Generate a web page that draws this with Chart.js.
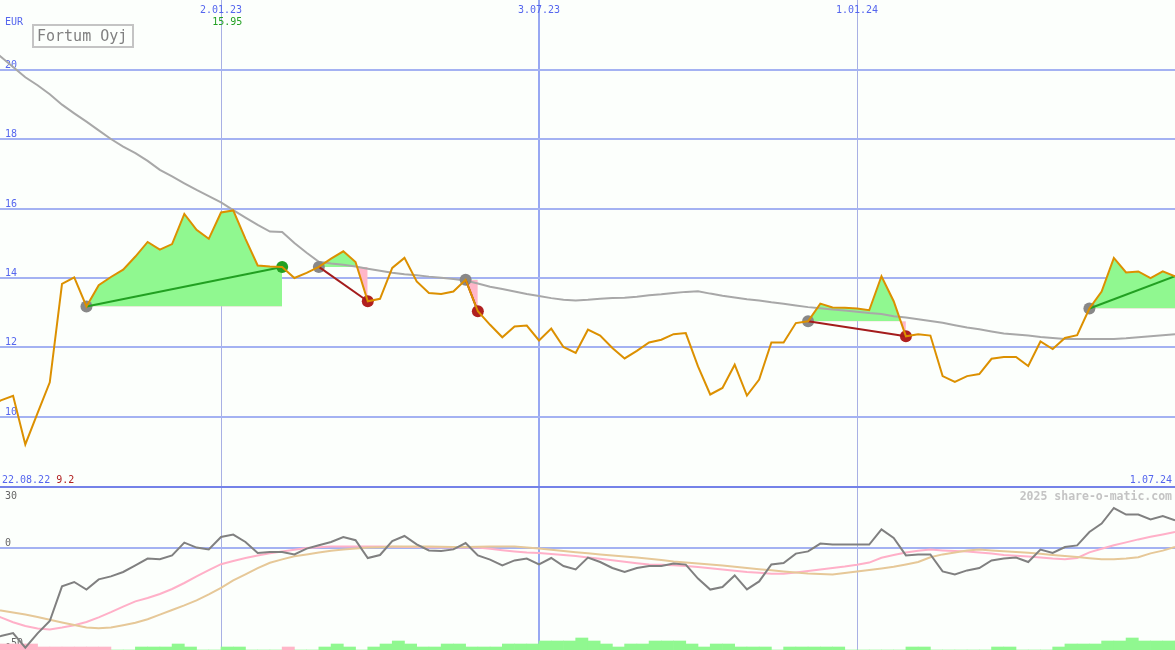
<!DOCTYPE html>
<html>
<head>
<meta charset="utf-8">
<script src="https://cdn.jsdelivr.net/npm/chart.js@4.4.1/dist/chart.umd.min.js"></script>
<style>
  body { margin: 0; background: #fcfffc; }
  #wrap { width: 1175px; height: 650px; overflow: hidden; }
  .pane { width: 1175px; position: relative; }
</style>
</head>
<body>
<div id="wrap">
  <div class="pane" style="height:486px"><canvas id="top"></canvas></div>
  <div class="pane" style="height:162px;border-top:2px solid #7482e8"><canvas id="bottom"></canvas></div>
</div>
<script>
// weekly data, week 0 = 2.01.23
var firstWeek = -19;
var xMin = -18.07, xMax = 78;
var tickWeeks = [0, 26, 52];
var tickDates = ['2.01.23', '3.07.23', '1.01.24'];
var startDate = '22.08.22', endDate = '1.07.24';
var yTicks = [10, 12, 14, 16, 18, 20];
var oscTicks = [30, 0, -50];

var price = [10.3, 10.47, 10.6, 9.2, 10.1, 10.99, 13.83, 14.02, 13.18, 13.79,
  14.03, 14.24, 14.62, 15.04, 14.82, 14.98, 15.85, 15.39, 15.13, 15.89,
  15.95, 15.13, 14.36, 14.33, 14.32, 14.0, 14.15, 14.32, 14.56, 14.77,
  14.46, 13.33, 13.4, 14.29, 14.58, 13.9, 13.57, 13.54, 13.61, 13.95,
  13.04, 12.65, 12.29, 12.6, 12.63, 12.2, 12.54, 12.01, 11.84, 12.51,
  12.34, 11.98, 11.68, 11.9, 12.14, 12.22, 12.38, 12.41, 11.45, 10.64,
  10.83, 11.5, 10.61, 11.07, 12.14, 12.14, 12.7, 12.75, 13.26, 13.15,
  13.14, 13.12, 13.07, 14.05, 13.33, 12.32, 12.38, 12.34, 11.17, 11.0,
  11.17, 11.23, 11.67, 11.72, 11.72, 11.46, 12.17, 11.95, 12.27, 12.35,
  13.12, 13.61, 14.58, 14.16, 14.19, 14.0, 14.19, 14.05];

var avgLine = [20.68, 20.38, 20.09, 19.79, 19.56, 19.3, 19.0, 18.75, 18.51, 18.26,
  18.01, 17.79, 17.6, 17.38, 17.12, 16.93, 16.73, 16.54, 16.36, 16.18,
  15.96, 15.74, 15.53, 15.34, 15.33, 15.01, 14.73, 14.47, 14.42, 14.38,
  14.33, 14.27, 14.21, 14.15, 14.11, 14.08, 14.04, 14.01, 13.97, 13.93,
  13.84, 13.75, 13.68, 13.61, 13.54, 13.48, 13.42, 13.37, 13.35, 13.37,
  13.4, 13.42, 13.43, 13.46, 13.5, 13.53, 13.57, 13.6, 13.62, 13.55,
  13.49, 13.44, 13.39, 13.35, 13.3, 13.26, 13.21, 13.16, 13.13, 13.09,
  13.06, 13.03, 12.99, 12.96, 12.9, 12.86, 12.81, 12.76, 12.71, 12.64,
  12.57, 12.52, 12.46, 12.4, 12.37, 12.34, 12.3, 12.27, 12.24, 12.24,
  12.24, 12.24, 12.24, 12.26, 12.29, 12.32, 12.35, 12.38];

var osc = [-45, -44, -42.5, -49.8, -42.7, -36.5, -19.2, -17, -20.8, -15.7,
  -14.2, -12, -8.7, -5.3, -5.6, -3.7, 2.7, 0.2, -0.7, 5.5,
  6.7, 3, -2.5, -2, -2, -3.2, -0.3, 1.4, 3, 5.5,
  3.9, -5, -3.5, 3.5, 6, 1.8, -1.2, -1.5, -0.7, 2.5,
  -3.7, -5.8, -8.7, -6.2, -5.3, -8.2, -5, -9, -10.7, -4.8,
  -7, -10, -12, -10, -9, -9, -7.8, -8.3, -15.3, -20.8,
  -19.5, -13.7, -20.7, -16.7, -8.2, -7.5, -2.8, -1.7, 2.2, 1.7,
  1.7, 1.7, 1.7, 9.3, 5, -3.7, -3.2, -3.2, -11.7, -13.2,
  -11.2, -10, -6.2, -5.3, -4.8, -7, -0.8, -2.5, 0.5, 1.3,
  8, 12.2, 20, 16.7, 16.7, 14.3, 16, 13.8];

var oscPink = [-32.5, -34.7, -37.1, -39, -40.2, -40.7, -39.8, -38.6, -37, -34.7,
  -32.1, -29.3, -26.7, -25, -23, -20.5, -17.5, -14.2, -11.1, -8.1,
  -6.5, -5, -3.7, -2.6, -1.7, -0.9, 0, 0.4, 0.8, 0.8,
  0.8, 0.8, 0.7, 0.6, 0.5, 0.45, 0.4, 0.35, 0.3, 0.25,
  0.2, -0.4, -1.1, -1.7, -2.2, -2.5, -3, -3.5, -4, -4.7,
  -5.4, -6.1, -6.9, -7.6, -8.2, -8.4, -8.6, -9, -9.5, -10.1,
  -10.8, -11.4, -12, -12.4, -12.9, -12.9, -12.2, -11.5, -10.8, -10,
  -9.3, -8.4, -7.3, -4.9, -3.5, -2.3, -1.4, -0.8, -1.2, -1.5,
  -1.8, -2.2, -2.8, -3.5, -3.9, -4.3, -4.8, -5.3, -5.6, -5,
  -2.2, -0.4, 1.4, 2.8, 4.3, 5.6, 6.8, 8];

var oscTan = [-30.2, -31.3, -32.3, -33.3, -34.5, -35.9, -37.2, -38.5, -39.7, -40.1,
  -39.7, -38.6, -37.4, -35.6, -33.3, -31, -28.7, -26.2, -23.2, -19.9,
  -16.2, -13.2, -10.1, -7.4, -5.7, -4.1, -3.2, -2.3, -1.4, -0.8,
  -0.3, 0.2, 0.4, 0.7, 0.8, 0.8, 0.8, 0.65, 0.55, 0.5,
  0.6, 0.7, 0.75, 0.75, 0.2, -0.3, -0.9, -1.5, -2.1, -2.6,
  -3.2, -3.7, -4.2, -4.8, -5.4, -6, -6.7, -7.2, -7.7, -8.2,
  -8.7, -9.4, -10, -10.6, -11.1, -11.7, -12.2, -12.8, -13, -13.2,
  -12.5, -11.8, -11, -10.2, -9.4, -8.2, -7, -4.6, -3.2, -2.2,
  -1.3, -0.8, -1.2, -1.6, -2, -2.4, -2.9, -3.5, -4, -4.5,
  -5.1, -5.6, -5.6, -5.2, -4.6, -2.7, -1.3, 0.5];

// signed bar levels: positive green, negative pink
var barLevels = [-2, -2, -2, -2, -1, -1, -1, -1, -1, -1,
  0, 0, 1, 1, 1, 2, 1, 0, 0, 1,
  1, 0, 0, 0, -1, 0, 0, 1, 2, 1,
  0, 1, 2, 3, 2, 1, 1, 2, 2, 1,
  1, 1, 2, 2, 2, 3, 3, 3, 4, 3,
  2, 1, 2, 2, 3, 3, 3, 2, 1, 2,
  2, 1, 1, 1, 0, 1, 1, 1, 1, 1,
  0, 0, 0, 0, 0, 1, 1, 0, 0, 0,
  0, 0, 1, 1, 0, 0, 0, 1, 2, 2,
  2, 3, 3, 4, 3, 3, 3, 3];

var tradeEntry = [-11, 8, 20, 48, 71];
var tradeExit = [5, 12, 21, 56, null];

var lastWeek = firstWeek + price.length - 1;
function pts(arr) {
  return arr.map(function (v, i) { return { x: firstWeek + i, y: v }; });
}
function at(week) { return price[week - firstWeek]; }

var green = '#90f890', pink = '#ffb6c8';
var monoFont = '"DejaVu Sans Mono", monospace';

var topSets = [
  { data: pts(price), borderColor: '#dc9000', borderWidth: 2, pointRadius: 0, order: 0 },
  { data: pts(avgLine), borderColor: '#a8a8a8', borderWidth: 2, pointRadius: 0, order: 3 }
];
var dots = [], dotColors = [];
tradeEntry.forEach(function (e, t) {
  var x = tradeExit[t] === null ? lastWeek : tradeExit[t];
  var p0 = at(e), p1 = at(x);
  var win = p1 > p0;
  topSets.push({
    data: pts(price).slice(e - firstWeek, x - firstWeek + 1),
    fill: { target: { value: p0 }, above: green, below: pink },
    borderWidth: 0, borderColor: 'transparent', pointRadius: 0, order: 4
  });
  topSets.push({
    data: [{ x: e, y: p0 }, { x: x, y: p1 }],
    borderColor: win ? '#22a022' : '#a41c1c', borderWidth: 2, pointRadius: 0, order: 1
  });
  dots.push({ x: e, y: p0 }); dotColors.push('#888888');
  if (tradeExit[t] !== null) {
    dots.push({ x: x, y: p1 }); dotColors.push(win ? '#22a022' : '#b02020');
  }
});
topSets.push({
  data: dots, showLine: false, pointRadius: 6, pointBorderWidth: 0,
  pointBackgroundColor: dotColors, order: 2
});

var gridBlue = '#a4b2f2';
function xGrid() {
  return {
    offset: false,
    color: function (c) { return c.tick && c.tick.value === 26 ? '#98a8f2' : '#a8b0e4'; },
    lineWidth: function (c) { return c.tick && c.tick.value === 26 ? 2 : 1; },
    drawTicks: false
  };
}
function xScale() {
  return {
    type: 'linear', min: xMin, max: xMax, offset: false,
    afterBuildTicks: function (a) { a.ticks = tickWeeks.map(function (v) { return { value: v }; }); },
    afterFit: function (s) { s.height = 0; },
    ticks: { display: false }, border: { display: false },
    grid: xGrid()
  };
}

var topText = {
  id: 'topText',
  beforeDatasetsDraw: function (chart) {
    var ctx = chart.ctx, y = chart.scales.y;
    ctx.save();
    ctx.font = '10px ' + monoFont;
    ctx.fillStyle = '#5566ee';
    ctx.textAlign = 'left';
    ctx.textBaseline = 'alphabetic';
    yTicks.forEach(function (v) { ctx.fillText(String(v), 5, y.getPixelForValue(v) - 2); });
    ctx.restore();
  },
  afterDraw: function (chart) {
    var ctx = chart.ctx, x = chart.scales.x, area = chart.chartArea;
    ctx.save();
    ctx.font = '10px ' + monoFont;
    ctx.textBaseline = 'alphabetic';
    ctx.fillStyle = '#5566ee';
    ctx.textAlign = 'left';
    ctx.fillText('EUR', 5, 25);
    ctx.textAlign = 'center';
    tickWeeks.forEach(function (w, i) { ctx.fillText(tickDates[i], x.getPixelForValue(w), 13); });
    // max / min of the price series
    var maxV = Math.max.apply(null, price), minV = Math.min.apply(null, price);
    var maxWeek = firstWeek + price.indexOf(maxV);
    ctx.fillStyle = '#22a022';
    ctx.fillText(maxV.toFixed(2), x.getPixelForValue(maxWeek) - 6, 25);
    ctx.textAlign = 'left';
    ctx.fillStyle = '#5566ee';
    ctx.fillText(startDate, 2, area.bottom - 3);
    var w = ctx.measureText(startDate + ' ').width;
    ctx.fillStyle = '#b02020';
    ctx.fillText(String(minV), 2 + w, area.bottom - 3);
    ctx.textAlign = 'right';
    ctx.fillStyle = '#5566ee';
    ctx.fillText(endDate, 1172, area.bottom - 3);
    // title box
    ctx.strokeStyle = '#c4c4c4';
    ctx.lineWidth = 2;
    ctx.strokeRect(33, 25, 100, 22);
    ctx.font = '15px ' + monoFont;
    ctx.fillStyle = '#808080';
    ctx.textAlign = 'left';
    ctx.fillText('Fortum Oyj', 37, 41);
    ctx.restore();
  }
};

new Chart(document.getElementById('top'), {
  type: 'line',
  data: { datasets: topSets },
  options: {
    responsive: true, maintainAspectRatio: false, animation: false,
    layout: { padding: 0, autoPadding: false },
    elements: { line: { tension: 0 } },
    plugins: { legend: { display: false }, tooltip: { enabled: false } },
    scales: {
      x: xScale(),
      y: {
        min: 8.0, max: 22.02,
        afterBuildTicks: function (a) { a.ticks = yTicks.map(function (v) { return { value: v }; }); },
        afterFit: function (s) { s.width = 0; },
        ticks: { display: false }, border: { display: false },
        grid: { color: gridBlue, lineWidth: 2, drawTicks: false }
      }
    }
  },
  plugins: [topText]
});

var bottomText = {
  id: 'bottomText',
  beforeDatasetsDraw: function (chart) {
    var ctx = chart.ctx, y = chart.scales.y;
    ctx.save();
    ctx.font = '10px ' + monoFont;
    ctx.fillStyle = '#666666';
    ctx.textAlign = 'left';
    ctx.textBaseline = 'alphabetic';
    oscTicks.forEach(function (v) {
      ctx.fillText(String(v), 5, Math.max(y.getPixelForValue(v) - 2, 11));
    });
    ctx.restore();
  },
  afterDraw: function (chart) {
    var ctx = chart.ctx;
    ctx.save();
    ctx.font = 'bold 11.5px ' + monoFont;
    ctx.fillStyle = '#c4c4c4';
    ctx.textAlign = 'right';
    ctx.textBaseline = 'alphabetic';
    ctx.fillText('2025 share-o-matic.com', 1172, 12);
    ctx.restore();
  }
};

new Chart(document.getElementById('bottom'), {
  type: 'line',
  data: {
    datasets: [
      { data: pts(osc), borderColor: '#808080', borderWidth: 2, pointRadius: 0, order: 0 },
      { data: pts(oscTan), borderColor: '#e6c898', borderWidth: 2, pointRadius: 0, order: 1 },
      { data: pts(oscPink), borderColor: '#ffb0c8', borderWidth: 2, pointRadius: 0, order: 2 },
      {
        type: 'bar', yAxisID: 'yb', order: 3,
        data: barLevels.map(function (v, i) { return { x: firstWeek + i + 0.5, y: Math.abs(v) }; }),
        backgroundColor: barLevels.map(function (v) { return v < 0 ? pink : green; }),
        borderWidth: 0, barPercentage: 1, categoryPercentage: 1, grouped: false
      }
    ]
  },
  options: {
    responsive: true, maintainAspectRatio: false, animation: false,
    layout: { padding: 0, autoPadding: false },
    elements: { line: { tension: 0 } },
    plugins: { legend: { display: false }, tooltip: { enabled: false } },
    scales: {
      x: xScale(),
      y: {
        min: -51, max: 30,
        afterBuildTicks: function (a) { a.ticks = [{ value: 0 }]; },
        afterFit: function (s) { s.width = 0; },
        ticks: { display: false }, border: { display: false },
        grid: { color: gridBlue, lineWidth: 2, drawTicks: false }
      },
      yb: {
        display: false, min: 0, max: 54
      }
    }
  },
  plugins: [bottomText]
});
</script>
</body>
</html>
